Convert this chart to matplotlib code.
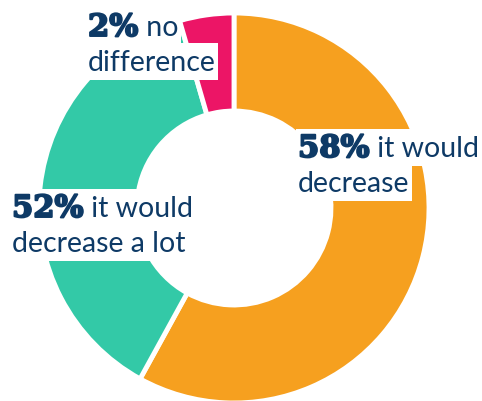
import matplotlib.pyplot as plt
import matplotlib.patches as patches
import matplotlib.patheffects as pe

# slice sizes as drawn, clockwise from 12 o'clock
values = [58, 37.5, 4.5]
colors = ['#F6A01F', '#33C9A7', '#EC1566']

# label text, one (bold figure, plain text) pair per line
label_lines = [
    [("58%", " it would"), ("", "decrease")],
    [("52%", " it would"), ("", "decrease a lot")],
    [("2%", " no"), ("", "difference")],
]
# left edge and first baseline of each label, in pixels from top-left
label_pos = [(298, 157), (12, 217), (88, 36)]
# drawing order of each line's white box (the pink slice sits at 4.4)
label_box_z = [(4.6, 4.6), (4.6, 4.6), (4.2, 4.6)]

NAVY = '#0E3A66'
W, H = 482, 401
LINE = 35
FS = 20.5
FS_BOLD = 22

fig = plt.figure(figsize=(W / 100, H / 100), dpi=100)
ax = fig.add_axes([0, 0, 1, 1])

wedges, _ = ax.pie(values, colors=colors, startangle=90, counterclock=False,
                   center=(234, H - 208), radius=195,
                   wedgeprops=dict(width=98, edgecolor='white', linewidth=3.5))
wedges[2].set_zorder(4.4)
ax.set_xlim(0, W)
ax.set_ylim(0, H)
ax.set_aspect('equal')
ax.axis('off')

fig.canvas.draw()
renderer = fig.canvas.get_renderer()

heavy = [pe.withStroke(linewidth=1.4, foreground=NAVY)]

for lines, (x0, y0), zs in zip(label_lines, label_pos, label_box_z):
    for i, (bold, rest) in enumerate(lines):
        base = H - (y0 + i * LINE)
        x = x0
        if bold:
            t = ax.text(x, base, bold, fontfamily='DejaVu Serif', fontweight='heavy',
                        fontsize=FS_BOLD, color=NAVY, va='baseline', zorder=5,
                        path_effects=heavy)
            x = t.get_window_extent(renderer).x1 + 1
        t2 = ax.text(x, base, rest, fontfamily='Lato', fontsize=FS,
                     color=NAVY, va='baseline', zorder=5)
        right = t2.get_window_extent(renderer).x1
        # white background behind the line
        ax.add_patch(patches.Rectangle((x0 - 2, base - 9), right - x0 + 4, LINE + 2,
                                       facecolor='white', edgecolor='none', zorder=zs[i]))

fig.savefig('out.png', dpi=100)
